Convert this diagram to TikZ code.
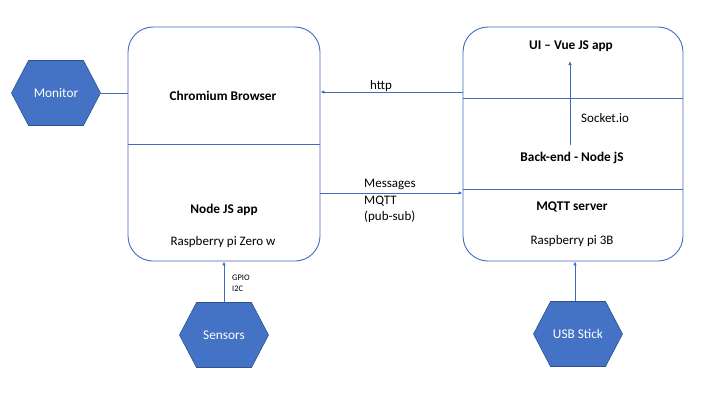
\documentclass[tikz,border=0pt]{standalone}
\usepackage{fontspec}
\setmainfont{Carlito}
\usetikzlibrary{arrows.meta}
\definecolor{lineblue}{HTML}{3F6CBC}
\definecolor{hexfill}{HTML}{4472C4}
\definecolor{hexedge}{HTML}{2F528F}
\tikzset{
  line/.style={draw=lineblue, line width=0.9pt},
  arr/.style={line, -{Latex[length=4pt,width=3.5pt]}},
  box/.style={draw=lineblue, line width=0.9pt, rounded corners=25pt, rectangle},
  lbl/.style={font=\fontsize{13}{15}\selectfont, inner sep=0pt},
  blbl/.style={font=\fontsize{13.3}{15}\selectfont\bfseries, inner sep=0pt},
  hexlbl/.style={font=\fontsize{13.3}{15}\selectfont, text=white, inner sep=0pt, minimum width=89pt, minimum height=65pt},
  hexshape/.style={fill=hexfill, draw=hexedge, line width=0.6pt}
}
\newcommand{\hexat}[2]{%
  \filldraw[hexshape] ({#1-44.5},#2) -- ({#1-27.5},{#2-32.5}) -- ({#1+27.5},{#2-32.5}) -- ({#1+44.5},#2) -- ({#1+27.5},{#2+32.5}) -- ({#1-27.5},{#2+32.5}) -- cycle;}
\begin{document}
\begin{tikzpicture}[x=1pt,y=-1pt]
\useasboundingbox (0,0) rectangle (720,405);
% boxes
\node[box, minimum width=192pt, minimum height=234pt] (L) at (224,144) {};
\node[box, minimum width=220pt, minimum height=234pt] (R) at (573,144) {};
\draw[line] (L.west) -- (L.east);
\draw[line] (R.west |- 0,98) -- (R.east |- 0,98);
\draw[line] (R.west |- 0,189) -- (R.east |- 0,189);
% hexagons
\hexat{56}{93}
\node[hexlbl] (mon) at (56,93) {Monitor};
\hexat{224}{335}
\node[hexlbl] (sen) at (224,335) {Sensors};
\hexat{578}{334}
\node[hexlbl] (usb) at (578,334) {USB Stick};
% texts
\node[blbl] (chr) at (223,96) {Chromium Browser};
\node[blbl] (njs) at (224,210) {Node JS app};
\node[lbl] (rpz) at (223,242) {Raspberry pi Zero w};
\node[blbl] (ui) at (571,46) {UI – Vue JS app};
\node[blbl] (be) at (572,158) {Back-end - Node jS};
\node[blbl] (mq) at (572,207) {MQTT server};
\node[lbl] (rp3) at (572,241) {Raspberry pi 3B};
\node[lbl] (http) at (381,86) {http};
\node[lbl, anchor=west] (sio) at (581,118) {Socket.io};
\node[lbl, anchor=north west, align=left, font=\fontsize{13}{16.5}\selectfont] (msg) at (364,179) {Messages\\MQTT\\(pub-sub)};
\node[lbl, anchor=north west, align=left, font=\fontsize{8.5}{11}\selectfont] (gpio) at (232,275) {GPIO\\I2C};
% connectors
\coordinate (s1) at (570,145);
\coordinate (s2) at (570,61);
\draw[line] (mon.east) -- (L.west |- mon.east);
\draw[arr] (R.west |- 0,92) -- (L.east |- 0,92);
\draw[arr] (L.east |- 0,193) -- (R.west |- 0,193);
\draw[arr] (s1) -- (s2);
\draw[arr] (sen.north) -- (L.south);
\draw[arr] (usb.north -| 575,0) -- (R.south -| 575,0);
\end{tikzpicture}
\end{document}
